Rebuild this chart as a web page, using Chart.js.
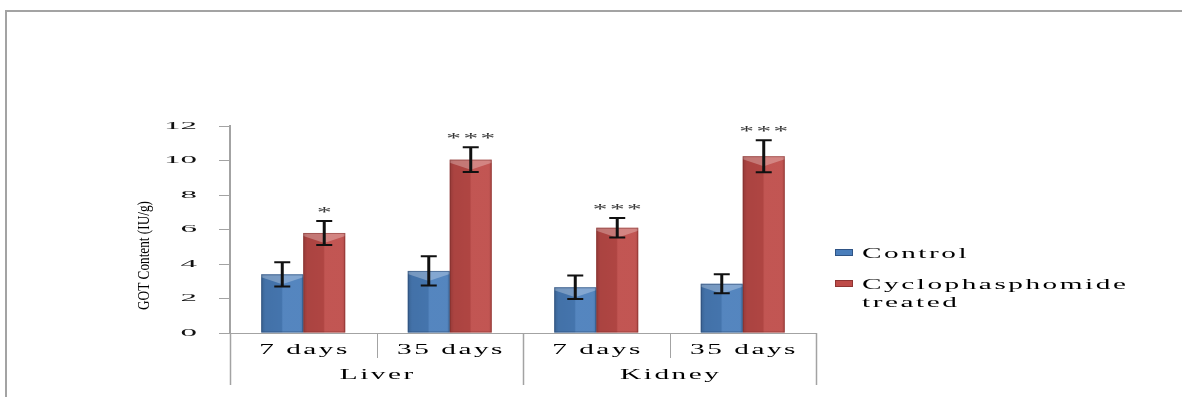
<!DOCTYPE html>
<html>
<head>
<meta charset="utf-8">
<script src="https://cdn.jsdelivr.net/npm/chart.js@4.4.1/dist/chart.umd.min.js"></script>
<style>
  html, body { margin: 0; padding: 0; background: #ffffff; }
  canvas { display: block; }
</style>
</head>
<body>
<canvas id="c" width="1182" height="397"></canvas>
<script>
// ---- data ----
const categories = ['7 days', '35 days', '7 days', '35 days'];
const groups = ['Liver', 'Kidney'];
const groupSizes = [2, 2];
const seriesNames = ['Control', 'Cyclophasphomide treated'];
const legendLines = [['Control'], ['Cyclophasphomide', 'treated']];
const controlValues = [3.4, 3.6, 2.65, 2.85];
const controlErr = [0.7, 0.85, 0.68, 0.55];
const treatedValues = [5.8, 10.05, 6.1, 10.25];
const treatedErr = [0.7, 0.72, 0.56, 0.93];
const controlStars = ['', '', '', ''];
const treatedStars = ['*', '***', '***', '***'];
const yTitle = 'GOT Content (IU/g)';
const yMin = 0, yMax = 12, yStep = 2;

const FAMILY = '"Liberation Serif", "Times New Roman", serif';
const BLUE = '#4A7EBB', RED = '#BE4B48';
const SX = 1.95, LS = 1.3;

function drawText(ctx, text, x, y, o) {
  ctx.save();
  ctx.font = o.size + 'px ' + FAMILY;
  const ls = o.ls || 0;
  ctx.letterSpacing = ls + 'px';
  ctx.fillStyle = o.color || '#000';
  ctx.textBaseline = o.baseline || 'alphabetic';
  ctx.textAlign = 'left';
  const w = ctx.measureText(text).width - ls;
  ctx.translate(x, y);
  if (o.rotate) ctx.rotate(o.rotate);
  ctx.scale(o.sx || 1, 1);
  const start = o.align === 'center' ? -w / 2 : (o.align === 'right' ? -w : 0);
  ctx.fillText(text, start, 0);
  ctx.restore();
}

function stretchLabels(scale, sx, ls, align) {
  if (!scale || scale._stretched) return;
  scale._stretched = true;
  const orig = scale.drawLabels;
  scale.drawLabels = function (area) {
    const items = this.getLabelItems(area);
    const ctx = this.ctx;
    const saved = this._labelItems;
    for (const it of items) {
      this._labelItems = [it];
      const tx = it.options.translation[0];
      const shift = align === 'center' ? ls * sx / 2 : ls * sx;
      ctx.save();
      ctx.letterSpacing = ls + 'px';
      ctx.translate(tx + shift, 0);
      ctx.scale(sx, 1);
      ctx.translate(-tx, 0);
      orig.call(this, area);
      ctx.restore();
    }
    this._labelItems = saved;
  };
}

const decor = {
  id: 'decor',
  afterLayout(chart) {
    stretchLabels(chart.scales.y, 3.0, 0, 'right');
    stretchLabels(chart.scales.x, SX, LS, 'center');
  },
  beforeDraw(chart) {
    const ctx = chart.ctx;
    ctx.save();
    ctx.strokeStyle = '#a3a3a3';
    ctx.lineWidth = 2;
    ctx.beginPath();
    ctx.moveTo(5, 11); ctx.lineTo(chart.width, 11);
    ctx.moveTo(6, 10); ctx.lineTo(6, chart.height);
    ctx.stroke();
    ctx.restore();
  },
  afterDatasetsDraw(chart) {
    const ctx = chart.ctx;
    const ys = chart.scales.y;
    const errs = [controlErr, treatedErr];
    const stars = [controlStars, treatedStars];
    const vals = [controlValues, treatedValues];
    chart.data.datasets.forEach((ds, di) => {
      const meta = chart.getDatasetMeta(di);
      meta.data.forEach((el, i) => {
        const l = el.x - el.width / 2, r = el.x + el.width / 2;
        const top = el.y, base = el.base;
        ctx.save();
        const g = ctx.createLinearGradient(l, 0, r, 0);
        g.addColorStop(0, 'rgba(0,0,0,0.22)');
        g.addColorStop(0.1, 'rgba(0,0,0,0.10)');
        g.addColorStop(0.48, 'rgba(0,0,0,0.08)');
        g.addColorStop(0.52, 'rgba(255,255,255,0.06)');
        g.addColorStop(0.92, 'rgba(255,255,255,0.06)');
        g.addColorStop(1, 'rgba(0,0,0,0.12)');
        ctx.fillStyle = g;
        ctx.fillRect(l, top, r - l, base - top);
        ctx.fillStyle = 'rgba(255,255,255,0.28)';
        ctx.beginPath();
        ctx.moveTo(l, top); ctx.lineTo(r, top); ctx.lineTo(r, top + 3);
        ctx.lineTo(el.x, top + 10); ctx.lineTo(l, top + 3); ctx.closePath();
        ctx.fill();
        ctx.strokeStyle = di === 0 ? 'rgba(40,70,110,0.55)' : 'rgba(120,40,38,0.45)';
        ctx.lineWidth = 1;
        ctx.strokeRect(l + 0.5, top + 0.5, r - l - 1, base - top - 1);
        ctx.restore();
        const v = vals[di][i], e = errs[di][i];
        const yT = ys.getPixelForValue(v + e), yB = ys.getPixelForValue(v - e);
        ctx.save();
        ctx.strokeStyle = '#111';
        ctx.lineWidth = 3;
        ctx.beginPath(); ctx.moveTo(el.x, yT); ctx.lineTo(el.x, yB); ctx.stroke();
        ctx.lineWidth = 2;
        ctx.beginPath();
        ctx.moveTo(el.x - 8, yT); ctx.lineTo(el.x + 8, yT);
        ctx.moveTo(el.x - 8, yB); ctx.lineTo(el.x + 8, yB);
        ctx.stroke();
        ctx.restore();
        const s = stars[di][i];
        if (s) drawText(ctx, s, el.x, yT - 4, {size: 15, sx: SX, ls: LS, align: 'center', color: '#333'});
      });
    });
  },
  afterDraw(chart) {
    const ctx = chart.ctx;
    const xs = chart.scales.x;
    const n = categories.length;
    const step = xs.getPixelForValue(1) - xs.getPixelForValue(0);
    const x0 = xs.getPixelForValue(0) - step / 2;
    const groupStarts = [0];
    groupSizes.forEach((g, k) => groupStarts.push(groupStarts[k] + g));
    ctx.save();
    ctx.strokeStyle = '#a3a3a3';
    for (let i = 0; i <= n; i++) {
      const bx = Math.round(x0 + i * step) + 0.5;
      const isGroup = groupStarts.includes(i);
      ctx.lineWidth = isGroup ? 1.5 : 1;
      ctx.beginPath();
      ctx.moveTo(bx, xs.top);
      ctx.lineTo(bx, xs.top + (isGroup ? 52 : 25));
      ctx.stroke();
    }
    ctx.restore();
    groups.forEach((g, k) => {
      const cx = x0 + (groupStarts[k] + groupSizes[k] / 2) * step;
      drawText(ctx, g, cx, 379, {size: 15, sx: SX, ls: LS, align: 'center'});
    });
    const ys = chart.scales.y;
    const cy = (ys.top + ys.bottom) / 2 + 26;
    drawText(ctx, yTitle, 145, cy, {size: 17, sx: 0.78, align: 'center', rotate: -Math.PI / 2, baseline: 'middle'});
    const colors = [BLUE, RED];
    const lx = 835, baseY = [258, 289];
    legendLines.forEach((lines, k) => {
      const by = baseY[k] - 9;
      ctx.save();
      ctx.fillStyle = colors[k];
      ctx.fillRect(lx, by, 18, 7);
      ctx.strokeStyle = k === 0 ? '#2f5485' : '#8f3432';
      ctx.lineWidth = 1;
      ctx.strokeRect(lx + 0.5, by + 0.5, 17, 6);
      ctx.restore();
      lines.forEach((t, j) => {
        drawText(ctx, t, 862, baseY[k] + j * 18, {size: 15, sx: SX, ls: LS, align: 'left'});
      });
    });
  }
};

new Chart(document.getElementById('c'), {
  type: 'bar',
  data: {
    labels: categories,
    datasets: [
      {label: seriesNames[0], data: controlValues, backgroundColor: BLUE, borderWidth: 0, barPercentage: 1, categoryPercentage: 0.573},
      {label: seriesNames[1], data: treatedValues, backgroundColor: RED, borderWidth: 0, barPercentage: 1, categoryPercentage: 0.573}
    ]
  },
  options: {
    responsive: false,
    animation: false,
    devicePixelRatio: 1,
    layout: {padding: {left: 130, right: 366, top: 126, bottom: 34}},
    plugins: {legend: {display: false}, tooltip: {enabled: false}, title: {display: false}},
    scales: {
      x: {
        grid: {display: false, drawTicks: false},
        border: {display: true, color: '#a3a3a3', width: 1},
        ticks: {font: {family: FAMILY, size: 15}, color: '#000', padding: 8, maxRotation: 0, autoSkip: false},
        afterFit(s) { s.height = 30; }
      },
      y: {
        min: yMin, max: yMax,
        ticks: {stepSize: yStep, font: {family: FAMILY, size: 11}, color: '#111', padding: 22},
        grid: {drawOnChartArea: false, drawTicks: true, tickLength: 11, tickColor: '#a3a3a3', color: '#a3a3a3'},
        border: {display: true, color: '#a3a3a3', width: 2},
        afterFit(s) { s.width = 100; }
      }
    }
  },
  plugins: [decor]
});
</script>
</body>
</html>
